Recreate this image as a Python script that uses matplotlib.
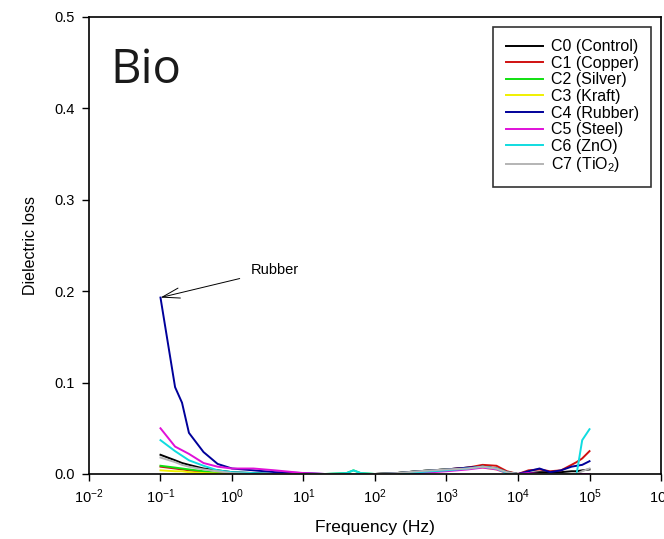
import numpy as np
import matplotlib
matplotlib.use("Agg")
import matplotlib.pyplot as plt
from matplotlib.ticker import FixedLocator, FuncFormatter

plt.rcParams['font.family'] = ['Liberation Sans', 'DejaVu Sans']
plt.rcParams['mathtext.fontset'] = 'custom'
plt.rcParams['mathtext.rm'] = 'Liberation Sans'
plt.rcParams['mathtext.it'] = 'Liberation Sans:italic'

# ─────── Data ───────
freq = [0.1, 0.16, 0.2, 0.25, 0.4, 0.63, 1, 2, 4, 10, 20, 40, 50, 63, 100,
        200, 400, 1000, 2000, 3200, 5000, 7000, 10000, 14000, 20000, 28000,
        40000, 56000, 66000, 79000, 100000]

c0_control = [0.021, 0.015, 0.012, 0.010, 0.006, 0.004, 0.002, 0.001, 0.0, 0.0, 0.0, 0.0, 0.0, 0.0, 0.0,
              0.001, 0.003, 0.005, 0.007, 0.008, 0.006, 0.002, 0.0, 0.001, 0.002, 0.002, 0.002, 0.003, 0.003, 0.004, 0.005]
c1_copper = [0.008, 0.006, 0.005, 0.004, 0.002, 0.001, 0.0, 0.0, 0.0, 0.0, 0.0, 0.0, 0.0, 0.0, 0.0,
             0.001, 0.003, 0.005, 0.007, 0.010, 0.009, 0.003, 0.0, 0.004, 0.005, 0.003, 0.004, 0.010, 0.013, 0.017, 0.025]
c2_silver = [0.009, 0.007, 0.006, 0.005, 0.003, 0.001, 0.0, 0.0, 0.0, 0.0, 0.0, 0.001, 0.004, 0.001, 0.0,
             0.001, 0.003, 0.005, 0.006, 0.008, 0.006, 0.002, 0.0, 0.0, 0.0, 0.0, 0.0, 0.0, 0.0, 0.0, 0.0]
c3_kraft = [0.004, 0.003, 0.003, 0.002, 0.001, 0.0005, 0.0, 0.0, 0.0, 0.0, 0.0, 0.0, 0.0, 0.0, 0.0,
            0.0, 0.002, 0.004, 0.006, 0.007, 0.005, 0.001, 0.0, 0.0, 0.0, 0.0, 0.0, 0.0, 0.0, 0.0, 0.0]
c4_rubber = [0.193, 0.095, 0.078, 0.045, 0.024, 0.011, 0.006, 0.004, 0.002, 0.001, 0.0, 0.0, 0.0, 0.0, 0.0,
             0.001, 0.003, 0.005, 0.007, 0.008, 0.006, 0.002, 0.0, 0.003, 0.006, 0.002, 0.004, 0.008, 0.009, 0.010, 0.014]
c5_steel = [0.050, 0.030, 0.026, 0.022, 0.012, 0.008, 0.006, 0.006, 0.004, 0.001, 0.0, 0.0, 0.0, 0.0, 0.0,
            0.0, 0.001, 0.003, 0.005, 0.007, 0.005, 0.001, 0.0, 0.001, 0.0, 0.0, 0.0, 0.0, 0.0, 0.0, 0.0]
c6_zno = [0.037, 0.025, 0.020, 0.015, 0.009, 0.004, 0.002, 0.001, 0.0, 0.0, 0.0, 0.001, 0.004, 0.001, 0.0,
          0.0, 0.002, 0.004, 0.006, 0.008, 0.006, 0.001, 0.0, 0.0, 0.0, 0.0, 0.0, 0.0, 0.0, 0.037, 0.049]
c7_tio2 = [0.018, 0.013, 0.010, 0.008, 0.005, 0.003, 0.001, 0.0, 0.0, 0.0, 0.0, 0.0, 0.0, 0.0, 0.0,
           0.001, 0.003, 0.005, 0.006, 0.008, 0.006, 0.002, 0.0, 0.0, 0.0, 0.0, 0.0, 0.0, 0.0, 0.003, 0.006]

series = [
    ("C0 (Control)", c0_control, "#000000"),
    ("C1 (Copper)", c1_copper, "#d01010"),
    ("C2 (Silver)", c2_silver, "#10e010"),
    ("C3 (Kraft)", c3_kraft, "#f0f000"),
    ("C4 (Rubber)", c4_rubber, "#00009a"),
    ("C5 (Steel)", c5_steel, "#e010d8"),
    ("C6 (ZnO)", c6_zno, "#10dce0"),
    ("C7 (TiO$_2$)", c7_tio2, "#b4b4b4"),
]

x_ticks = [1e-2, 1e-1, 1e0, 1e1, 1e2, 1e3, 1e4, 1e5, 1e6]
y_ticks = [0.0, 0.1, 0.2, 0.3, 0.4, 0.5]

# ─────── Plot ───────
fig = plt.figure(figsize=(6.64, 5.39), dpi=100)
ax = fig.add_axes([0.134, 0.1206, 0.8615, 0.848])

for label, vals, color in series:
    ax.plot(freq, vals, color=color, linewidth=1.4, label=label)

ax.set_xscale('log')
ax.set_xlim(1e-2, 1e6)
ax.set_ylim(0, 0.5)
ax.xaxis.set_major_locator(FixedLocator(x_ticks))
ax.xaxis.set_minor_locator(FixedLocator([]))
ax.xaxis.set_major_formatter(FuncFormatter(lambda v, p: r"10$^{%d}$" % int(round(np.log10(v)))))
ax.yaxis.set_major_locator(FixedLocator(y_ticks))
ax.yaxis.set_major_formatter(FuncFormatter(lambda v, p: f"{v:.1f}"))
ax.tick_params(direction='out', length=5, width=1, labelsize=10.5, pad=5)
for s in ax.spines.values():
    s.set_linewidth(1.2)

ax.set_xlabel("Frequency (Hz)", fontsize=12.5, labelpad=10)
ax.set_ylabel("Dielectric loss", fontsize=11.5, labelpad=12)

ax.text(0.037, 0.856, "Bio", transform=ax.transAxes, fontsize=34,
        family='Open Sans', va='baseline', ha='left', color='#1a1a1a')

ax.annotate("Rubber", xy=(0.1, 0.193), xytext=(1.82, 0.223),
            fontsize=10.5, va='center', ha='left',
            arrowprops=dict(arrowstyle='->,head_length=1.2,head_width=0.35',
                            color='black', lw=0.7, shrinkA=6, shrinkB=0))

leg = ax.legend(loc='upper right', fontsize=11.5, frameon=True, fancybox=False,
                edgecolor='black', handlelength=2.3, handletextpad=0.5,
                labelspacing=0.1, borderaxespad=0.6, borderpad=0.8)
leg.get_frame().set_linewidth(1.2)

fig.savefig("out.png", dpi=100)
